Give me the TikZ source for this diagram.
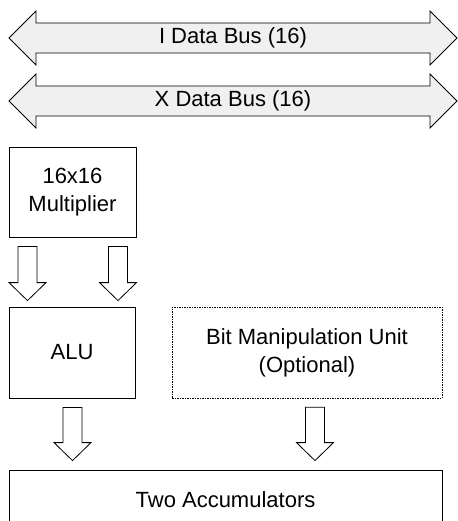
\documentclass[tikz,border=0pt]{standalone}
\usepackage{fontspec}
\setmainfont{Liberation Sans}
\usetikzlibrary{shapes.arrows,calc}

\tikzset{
    unit/.style={draw, align=center, inner sep=0pt, minimum width=127pt, minimum height=90pt},
    opt/.style={line width=.6pt, dash pattern=on 1.5pt off 1pt},
    bus/.style={double arrow, draw, fill=gray!12, inner sep=0pt, minimum width=54pt,
        minimum height=448pt, double arrow head extend=8.5pt, double arrow tip angle=90},
    fat/.style={fill=white, to path={let \p1=(\tikztostart), \p2=(\tikztotarget) in
        (\x1-9.5pt,\y1) -- (\x1+9.5pt,\y1) -- (\x1+9.5pt,\y2+18pt) -- (\x1+18.5pt,\y2+18pt)
        -- (\x1,\y2) -- (\x1-18.5pt,\y2+18pt) -- (\x1-9.5pt,\y2+18pt) -- cycle}}
}

\begin{document}
\begin{tikzpicture}[x=1pt, y=-1pt, line width=.8pt, font=\fontsize{22}{28}\selectfont]
        \useasboundingbox (0,0) rectangle (457,521);

        % buses
        \node[bus] (ibus) at (233,38) {I Data Bus (16)};
        \node[bus] (xbus) at (233,101) {X Data Bus (16)};

        % units
        \node[unit] (mul) at (72.5,192) {16x16\\Multiplier};
        \node[unit, minimum width=126pt, minimum height=91pt] (alu) at (72,352.5) {ALU};
        \node[unit, opt, minimum width=270pt, minimum height=91pt] (bmu) at (307,352.5) {Bit Manipulation Unit\\(Optional)};
        \node[unit, minimum width=433pt, minimum height=60pt] (acc) at (225.5,500) {Two Accumulators};

        % arrows between units
        \draw[fat] ([xshift=-45pt, yshift=-9pt]mul.south) to ([yshift=6pt]alu.north);
        \draw[fat] ([xshift=45.5pt, yshift=-9pt]mul.south) to ([yshift=6pt]alu.north);
        \draw[fat] ([xshift=.5pt, yshift=-9pt]alu.south) to ([yshift=9pt]acc.north);
        \draw[fat] ([xshift=8pt, yshift=-9pt]bmu.south) to ([yshift=9pt]acc.north);

    \end{tikzpicture}
\end{document}
